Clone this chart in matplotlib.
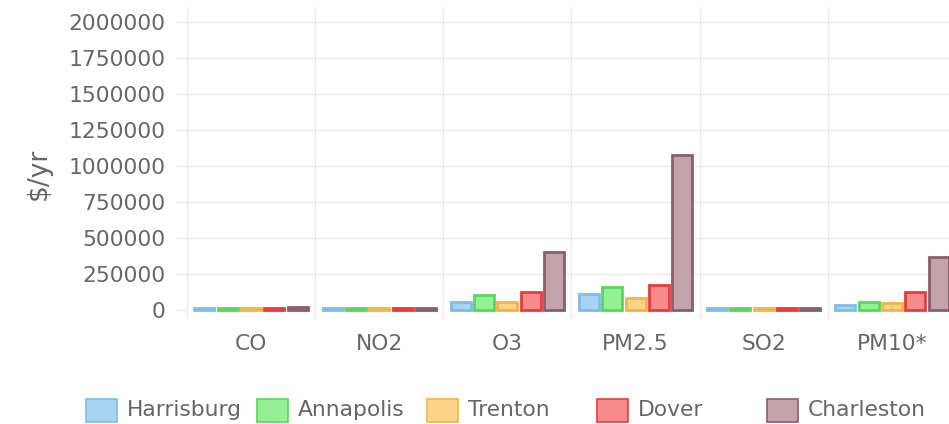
import matplotlib
matplotlib.use("Agg")
import matplotlib.pyplot as plt
from matplotlib.patches import Rectangle
import numpy as np

# Annual health-damage cost by pollutant and city ($/yr)
pollutants = ["CO", "NO2", "O3", "PM2.5", "SO2", "PM10*"]
cities = ["Harrisburg", "Annapolis", "Trenton", "Dover", "Charleston"]

harrisburg = [9000, 8000, 55000, 110000, 7000, 29000]
annapolis = [10000, 9000, 99000, 157000, 8000, 52000]
trenton = [9000, 8000, 55000, 82000, 7000, 43000]
dover = [11000, 10000, 122000, 170000, 9000, 124000]
charleston = [14000, 12000, 400000, 1075000, 11000, 365000]

series = [harrisburg, annapolis, trenton, dover, charleston]

fill_colors = ["#a8d4f3", "#95ef95", "#fdd48a", "#f78a8a", "#c2a3ab"]
edge_colors = ["#80bce8", "#58d858", "#f4b445", "#e53c3c", "#8c5d6a"]

y_ticks = [0, 250000, 500000, 750000, 1000000, 1250000, 1500000, 1750000, 2000000]

W, H = 949, 424
fig = plt.figure(figsize=(W / 100, H / 100), dpi=100)

# plot area in pixels: x 187..956, y 7..309.5 (value 0 at bottom)
left_px, right_px, top_px, zero_px = 187, 956, 7, 309.5
ax = fig.add_axes([left_px / W, (H - zero_px) / H,
                   (right_px - left_px) / W, (zero_px - top_px) / H])

grid_c = "#ebebeb"
text_c = "#666666"
fs = 15.7

n_cat = len(pollutants)
n_ser = len(series)
slot = 0.182
bar_w = 0.156
x = np.arange(n_cat) + 0.5
for k, vals in enumerate(series):
    ax.bar(x + (k - (n_ser - 1) / 2) * slot, vals, width=bar_w,
           color=fill_colors[k], edgecolor=edge_colors[k], linewidth=2.0,
           zorder=3, clip_on=False)

ax.set_xlim(0, n_cat)
ax.set_ylim(0, 2102000)

ax.set_yticks(y_ticks)
ax.set_yticklabels([str(v) for v in y_ticks])
ax.set_xticks(x)
ax.set_xticklabels(pollutants)
ax.set_xticks(np.arange(n_cat + 1), minor=True)

ax.tick_params(axis="y", which="major", length=8.6, color=grid_c, width=1,
               labelsize=fs, labelcolor=text_c, pad=7)
ax.tick_params(axis="x", which="major", length=0, labelsize=fs,
               labelcolor=text_c, pad=18)
ax.tick_params(axis="x", which="minor", length=6, color=grid_c, width=1)

ax.grid(axis="y", which="major", color=grid_c, linewidth=1, zorder=0)
ax.grid(axis="x", which="minor", color=grid_c, linewidth=1, zorder=0)
ax.grid(axis="x", which="major", visible=False)
for s in ax.spines.values():
    s.set_visible(False)
ax.axvline(0, color=grid_c, linewidth=1, zorder=0)

ax.set_ylabel("$/yr", fontsize=19, color=text_c)
ax.yaxis.set_label_coords(-(left_px - 52) / (right_px - left_px), 0.45)

# legend row
box_x = [86, 257, 427, 597, 767]
box_w, box_h = 31, 23
legend_y = 410
for k, name in enumerate(cities):
    fig.patches.append(Rectangle((box_x[k] / W, (H - legend_y - box_h / 2) / H),
                                 box_w / W, box_h / H,
                                 transform=fig.transFigure,
                                 facecolor=fill_colors[k],
                                 edgecolor=edge_colors[k], linewidth=1.2))
    fig.text((box_x[k] + box_w + 10) / W, (H - legend_y) / H, name,
             fontsize=fs, color=text_c, ha="left", va="center")

fig.savefig("out.png", dpi=100)
